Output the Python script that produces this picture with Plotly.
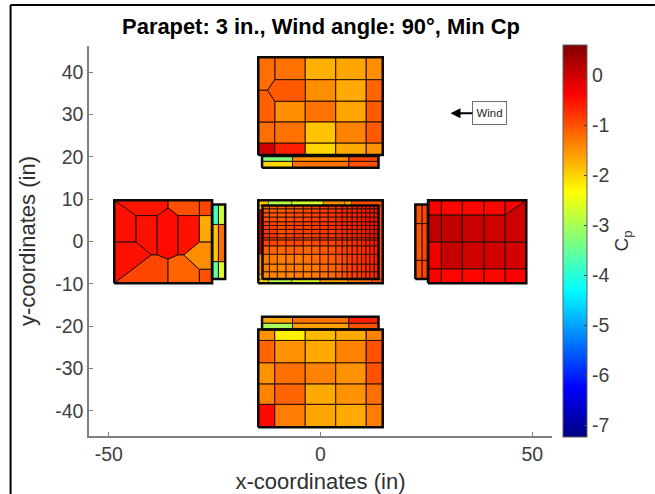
import plotly.graph_objects as go
from plotly.colors import sample_colorscale

TITLE = "Parapet: 3 in., Wind angle: 90°, Min Cp"
X_TICKS = [-50, 0, 50]
Y_TICKS = [-40, -30, -20, -10, 0, 10, 20, 30, 40]
CB_TICKS = [0, -1, -2, -3, -4, -5, -6, -7]
CP_MIN, CP_MAX = -7.24, 0.6
JET = [[0, "rgb(0,0,128)"], [0.125, "rgb(0,0,255)"], [0.375, "rgb(0,255,255)"],
       [0.625, "rgb(255,255,0)"], [0.875, "rgb(255,0,0)"], [1, "rgb(128,0,0)"]]

# ---- top wall
top_x = [-14.7, -10.8, -3.6, 3.6, 10.8, 14.7]
top_y = [43.5, 38.2, 33.1, 28.2, 23.2, 20.4]
top_cp = [
    [None, -1.26, -1.73, -1.65, -1.46],
    [None, None, -1.46, -1.69, -1.15],
    [None, -1.46, -1.26, -1.65, -1.07],
    [-1.23, -1.26, -1.88, -1.38, -1.07],
    [-0.03, -0.61, -2.03, -1.69, -1.50],
]
top_poly = [
    ([-14.7, -10.8, -10.8, -12.5, -14.7], [43.5, 43.5, 38.2, 35.7, 35.7], -1.23),
    ([-14.7, -12.5, -10.8, -10.8, -14.7], [35.7, 35.7, 33.1, 28.2, 28.2], -1.11),
    ([-12.5, -10.8, -3.6, -3.6, -10.8], [35.7, 38.2, 38.2, 33.1, 33.1], -1.07),
]
top_par_x = [-13.8, -6.6, 6.7, 13.7]
top_par_y = [20.2, 18.9, 17.4]
top_par_cp = [[-3.3, -1.46, -0.92], [-2.03, -1.26, -0.99]]

# ---- bottom wall
bot_x = [-14.7, -10.8, -3.6, 3.6, 10.8, 14.7]
bot_y = [-20.8, -23.4, -28.7, -33.7, -38.5, -43.9]
bot_cp = [
    [-1.50, -2.23, -1.80, -1.69, -1.38],
    [-1.15, -1.50, -1.69, -1.38, -0.99],
    [-1.50, -1.23, -1.38, -1.50, -0.99],
    [-1.38, -1.15, -1.69, -1.50, -1.23],
    [-0.46, -1.34, -1.65, -1.69, -1.34],
]
bot_par_x = [-13.8, -6.6, 6.7, 13.7]
bot_par_y = [-17.8, -19.35, -20.8]
bot_par_cp = [[-1.65, -1.26, -0.61], [-3.0, -1.61, -0.99]]

# ---- left wall
left_poly = [
    ([-48.7, -43.55, -43.55, -48.7], [9.7, 6.1, -0.16, -0.16], -0.5),
    ([-48.7, -36.0, -36.0, -38.6, -43.55], [9.7, 9.7, 7.9, 6.1, 6.1], -0.53),
    ([-36.0, -28.6, -28.6, -33.65, -36.0], [9.7, 9.7, 6.1, 6.1, 7.9], -0.99),
    ([-28.6, -25.6, -25.6, -28.6], [9.7, 9.7, 6.1, 6.1], -0.92),
    ([-43.55, -38.6, -38.6, -39.94, -43.55], [6.1, 6.1, -3.2, -3.2, -0.16], -0.5),
    ([-38.6, -36.0, -33.65, -33.65, -36.0, -38.6], [6.1, 7.9, 6.1, -3.2, -4.2, -3.2], -0.46),
    ([-33.65, -28.6, -28.6, -32.3, -33.65], [6.1, 6.1, -0.16, -3.2, -3.2], -0.5),
    ([-28.6, -25.6, -25.6, -28.6], [6.1, 6.1, -0.16, -0.16], -1.69),
    ([-48.7, -43.55, -39.94, -48.7], [-0.16, -0.16, -3.2, -9.9], -0.5),
    ([-39.94, -38.6, -36.0, -36.0, -48.7], [-3.2, -3.2, -4.2, -9.9, -9.9], -0.92),
    ([-36.0, -33.65, -32.3, -28.6, -28.6, -36.0], [-4.2, -3.2, -3.2, -6.6, -9.9, -9.9], -1.15),
    ([-32.3, -28.6, -25.6, -25.6, -28.6], [-3.2, -0.16, -0.16, -6.6, -6.6], -1.46),
    ([-28.6, -25.6, -25.6, -28.6], [-6.6, -6.6, -9.9, -9.9], -0.99),
]
left_par_x = [-25.6, -24.1, -22.5]
left_par_y = [8.7, 4.0, -4.8, -8.9]
left_par_cp = [[-3.76, -2.76], [-1.9, -1.23], [-3.53, -2.6]]

# ---- right wall
right_x = [25.4, 28.55, 33.5, 38.6, 43.6, 48.6]
right_y = [9.7, 6.2, -0.16, -6.5, -9.9]
right_cp = [
    [-0.34, -0.42, -0.42, -0.42, None],
    [0.12, 0.08, 0.04, 0.0, None],
    [-0.27, 0.04, 0.0, -0.03, -0.07],
    [-0.38, -0.42, -0.42, -0.42, -0.38],
]
right_poly = [
    ([43.6, 48.6, 43.6], [9.7, 9.7, 6.2], -0.34),
    ([43.6, 48.6, 48.6, 43.6], [6.2, 9.7, -0.16, -0.16], 0.0),
]
right_par_x = [22.4, 24.0, 25.4]
right_par_y = [8.7, 4.2, -4.5, -8.9]
right_par_cp = [[-0.99, -0.92], [-1.02, -0.92], [-0.99, -0.92]]

# ---- roof
roof_x = [-13.7, -12.06, -10.18, -8.13, -6.17, -4.05, -2.07, -0.12, 1.84, 3.65,
          5.14, 6.31, 7.49, 8.67, 9.7, 10.72, 11.66, 12.68, 13.7]
roof_y = [8.46, 7.66, 6.72, 5.71, 4.6, 3.76, 2.82, 1.79, 0.85, 0.3, -1.1, -3.07, -5.4, -7.2, -8.9]
roof_cp = [
    [-1.1, -1.15, -1.15, -1.1, -1.1, -1.0, -0.95, -0.85, -0.8, -0.75, -0.7, -0.7, -0.65, -0.6, -0.6, -0.55, -0.55, -0.55],
    [-1.05, -1.1, -1.1, -1.05, -1.0, -0.95, -0.9, -0.85, -0.8, -0.75, -0.7, -0.65, -0.65, -0.6, -0.55, -0.55, -0.55, -0.5],
    [-1.0, -1.05, -1.05, -1.0, -0.95, -0.9, -0.85, -0.8, -0.75, -0.7, -0.65, -0.65, -0.6, -0.6, -0.55, -0.55, -0.5, -0.5],
    [-0.95, -0.95, -1.0, -0.95, -0.9, -0.85, -0.8, -0.8, -0.75, -0.7, -0.7, -0.65, -0.6, -0.55, -0.55, -0.5, -0.5, -0.5],
    [-0.85, -0.9, -0.95, -0.9, -0.85, -0.85, -0.8, -0.8, -0.75, -0.7, -0.65, -0.65, -0.6, -0.6, -0.55, -0.55, -0.5, -0.5],
    [-0.8, -0.85, -0.95, -0.9, -0.85, -0.85, -0.8, -0.8, -0.75, -0.7, -0.7, -0.65, -0.65, -0.6, -0.55, -0.55, -0.55, -0.5],
    [-0.75, -0.8, -1.0, -0.95, -0.85, -0.85, -0.8, -0.8, -0.8, -0.75, -0.7, -0.65, -0.65, -0.6, -0.6, -0.55, -0.55, -0.5],
    [-0.75, -0.8, -0.95, -0.9, -0.85, -0.9, -0.85, -0.8, -0.8, -0.75, -0.7, -0.7, -0.65, -0.65, -0.6, -0.55, -0.55, -0.55],
    [-0.8, -0.85, -0.9, -0.9, -0.85, -0.9, -0.9, -0.85, -0.85, -0.8, -0.75, -0.7, -0.7, -0.65, -0.6, -0.6, -0.55, -0.55],
    [-0.9, -0.9, -0.95, -0.95, -0.9, -1.0, -0.95, -0.9, -0.9, -0.85, -0.8, -0.75, -0.7, -0.7, -0.65, -0.6, -0.6, -0.55],
    [-1.1, -1.15, -1.15, -1.15, -1.1, -1.15, -1.1, -1.05, -1.0, -0.9, -0.85, -0.8, -0.75, -0.7, -0.7, -0.65, -0.6, -0.6],
    [-1.3, -1.3, -1.35, -1.3, -1.3, -1.25, -1.2, -1.15, -1.1, -1.0, -0.9, -0.85, -0.8, -0.75, -0.7, -0.7, -0.65, -0.6],
    [-1.35, -1.4, -1.4, -1.35, -1.35, -1.3, -1.3, -1.2, -1.15, -1.1, -0.95, -0.9, -0.8, -0.75, -0.75, -0.7, -0.65, -0.65],
    [-1.45, -1.4, -1.4, -1.4, -1.35, -1.35, -1.3, -1.25, -1.2, -1.1, -1.0, -0.9, -0.85, -0.8, -0.75, -0.7, -0.7, -0.65],
]
# roof perimeter strip: x0, x1, y0, y1, Cp
roof_edge_x0 = [-14.7, -12.3, -6.8, 0.67, 5.77, 7.35, -14.7, -12.3, -6.8, -0.1, 6.55, 12.05, -14.7, -14.7, -14.7, -14.7, 13.7]
roof_edge_x1 = [-12.3, -6.8, 0.67, 5.77, 7.35, 14.7, -12.3, -6.8, -0.1, 6.55, 12.05, 14.7, -13.7, -13.7, -13.7, -13.7, 14.7]
roof_edge_y0 = [8.46, 8.46, 8.46, 8.46, 8.46, 8.46, -9.9, -9.9, -9.9, -9.9, -9.9, -9.9, 7.5, -3.05, -7.8, -8.9, -8.9]
roof_edge_y1 = [9.7, 9.7, 9.7, 9.7, 9.7, 9.7, -8.9, -8.9, -8.9, -8.9, -8.9, -8.9, 8.46, 7.5, -3.05, -7.8, 8.46]
roof_edge_cp = [-1.9, -2.9, -2.7, -1.46, -1.7, -0.95, -2.0, -2.9, -2.6, -1.6, -1.25, -1.0, -1.9, 0.05, -1.5, -2.0, -1.0]

# ---- outlines of each panel: x0, x1, y0, y1
outline_x0 = [-14.7, -13.8, -13.7, -14.7, -48.7, -25.6, 25.4, 22.4, -14.7, -13.8]
outline_x1 = [14.7, 13.7, 13.7, 14.7, -25.6, -22.5, 48.6, 25.4, 14.7, 13.7]
outline_y0 = [20.4, 17.4, -8.9, -9.9, -9.9, -8.9, -9.9, -8.9, -43.9, -20.8]
outline_y1 = [43.5, 20.2, 8.46, 9.7, 9.7, 8.7, 9.7, 8.7, -20.8, -17.8]


def color(cp):
    t = (cp - CP_MIN) / (CP_MAX - CP_MIN)
    return sample_colorscale(JET, [t])[0]


fig = go.Figure()


def cell(xs, ys, cp, width=1.0):
    fig.add_trace(go.Scatter(
        x=list(xs) + [xs[0]], y=list(ys) + [ys[0]], mode="lines", fill="toself",
        fillcolor=color(cp), line=dict(color="#2a1000", width=width),
        hoverinfo="skip", showlegend=False))


def grid(xe, ye, vals, width=1.0):
    for r, row in enumerate(vals):
        for c, v in enumerate(row):
            if v is not None:
                cell([xe[c], xe[c + 1], xe[c + 1], xe[c]],
                     [ye[r], ye[r], ye[r + 1], ye[r + 1]], v, width)


grid(top_par_x, top_par_y, top_par_cp)
grid(top_x, top_y, top_cp)
for p in top_poly:
    cell(*p)
grid(bot_par_x, bot_par_y, bot_par_cp)
grid(bot_x, bot_y, bot_cp)
grid(left_par_x, left_par_y, left_par_cp)
for p in left_poly:
    cell(*p)
grid(right_par_x, right_par_y, right_par_cp)
grid(right_x, right_y, right_cp)
for p in right_poly:
    cell(*p)
for i in range(len(roof_edge_cp)):
    cell([roof_edge_x0[i], roof_edge_x1[i], roof_edge_x1[i], roof_edge_x0[i]],
         [roof_edge_y0[i], roof_edge_y0[i], roof_edge_y1[i], roof_edge_y1[i]], roof_edge_cp[i], 0.5)
grid(roof_x, roof_y, roof_cp, 0.9)

for i in range(len(outline_x0)):
    a, b, c, d = outline_x0[i], outline_x1[i], outline_y0[i], outline_y1[i]
    fig.add_trace(go.Scatter(x=[a, b, b, a, a], y=[c, c, d, d, c], mode="lines",
                             line=dict(color="#0a0a0a", width=2.5),
                             hoverinfo="skip", showlegend=False))

W, H = 655, 494
L, R, T, B = 88.5, 552, 46, 436


def px(x):
    return (x - L) / (R - L)


def py(y):
    return (B - y) / (B - T)


# colour bar carrier
fig.add_trace(go.Scatter(
    x=[0], y=[0], mode="markers", showlegend=False, hoverinfo="skip",
    marker=dict(color=[CP_MIN], size=0.1, opacity=0, cmin=CP_MIN, cmax=CP_MAX, colorscale=JET, showscale=True,
                colorbar=dict(
                    x=px(563), xanchor="left",
                    y=py(437), yanchor="bottom", lenmode="pixels", len=392,
                    thicknessmode="pixels", thickness=24, xpad=0, ypad=0,
                    outlinecolor="#606060", outlinewidth=1,
                    tickmode="array", tickvals=CB_TICKS, ticktext=[str(v) for v in CB_TICKS],
                    ticks="inside", ticklen=3, tickcolor="#404040",
                    tickfont=dict(family="Liberation Sans", size=19.5, color="#404040"),
                    title=dict(text="C<sub>p</sub>", side="right",
                               font=dict(family="Liberation Sans", size=19, color="#303030")),
                ))))

frame = dict(type="line", xref="paper", yref="paper", line=dict(color="black", width=2))
axis_font = dict(family="Liberation Sans", size=19.5, color="#404040")

fig.update_layout(
    width=W, height=H, paper_bgcolor="white", plot_bgcolor="white",
    margin=dict(l=L, r=W - R, t=T, b=H - B, autoexpand=False),
    title=dict(text="<b>" + TITLE + "</b>", x=321 / W, xanchor="center", y=1 - 26.5 / H, yanchor="middle",
               font=dict(family="Liberation Sans", size=21.9, color="black")),
    xaxis=dict(range=[-54.67, 54.67], showgrid=False, zeroline=False, showline=True,
               linecolor="#808080", linewidth=1.5, ticks="inside", ticklen=4, tickcolor="#808080",
               tickmode="array", tickvals=X_TICKS, ticktext=[str(v) for v in X_TICKS],
               tickfont=axis_font,
               title=dict(text="x-coordinates (in)", standoff=10,
                          font=dict(family="Liberation Sans", size=22, color="#303030"))),
    yaxis=dict(range=[-45.97, 46.16], showgrid=False, zeroline=False, showline=True,
               linecolor="#808080", linewidth=1.5, ticks="inside", ticklen=4, tickcolor="#808080",
               tickmode="array", tickvals=Y_TICKS, ticktext=[str(v) for v in Y_TICKS],
               tickfont=axis_font,
               title=dict(text="y-coordinates (in)", standoff=13,
                          font=dict(family="Liberation Sans", size=22, color="#303030"))),
    shapes=[
        dict(frame, x0=px(10), x1=px(10), y0=py(5), y1=py(494)),
        dict(frame, x0=px(10), x1=px(655), y0=py(5), y1=py(5)),
    ],
    annotations=[dict(
        x=30.7, y=30.3, xref="x", yref="y", ax=39.9, ay=30.3, axref="x", ayref="y",
        text="Wind", showarrow=True, arrowhead=2, arrowsize=1, arrowwidth=2, arrowcolor="black",
        font=dict(family="Liberation Sans", size=11.4, color="#202020"),
        bgcolor="white", bordercolor="#707070", borderwidth=1, borderpad=2, width=29, height=18)],
)

fig.write_html("out.html", config=dict(displayModeBar=False),
               post_script="document.body.style.margin='0';document.body.style.overflow='hidden';")
